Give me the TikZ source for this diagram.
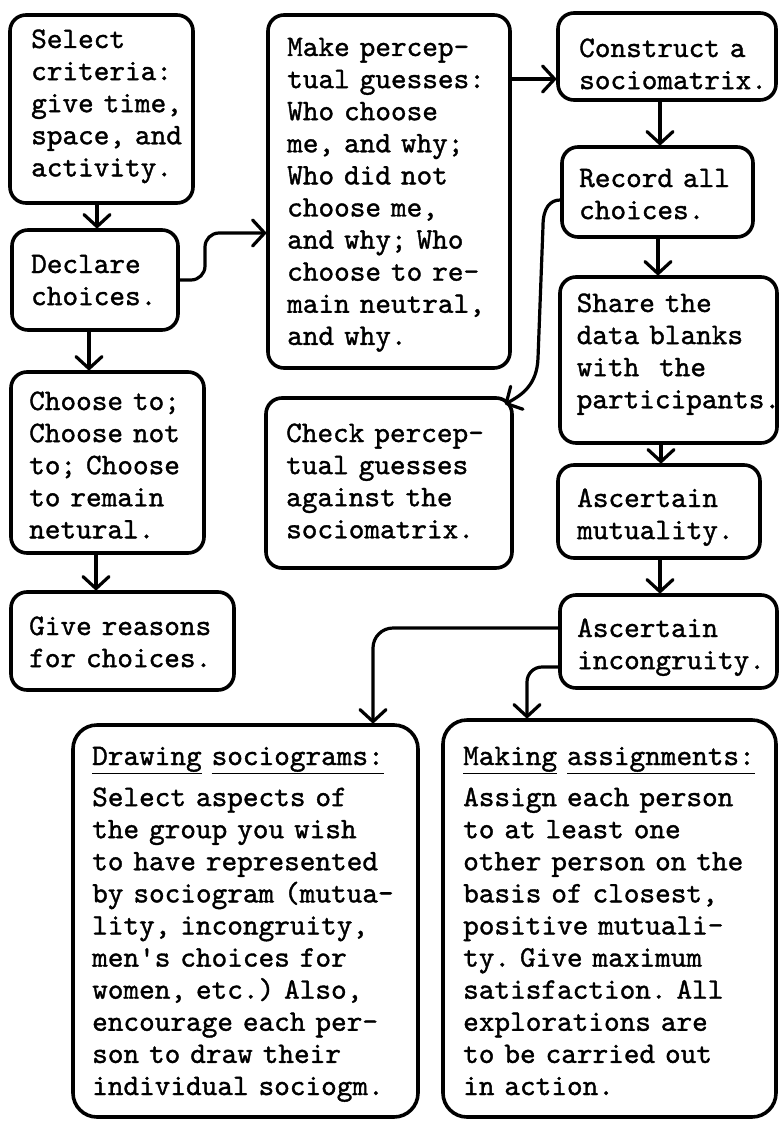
\documentclass[tikz,border=0pt]{standalone}
\usepackage{fontspec}
\newfontfamily\tw{lmmono10-regular}[Extension=.otf, FakeBold=1.2]
\usetikzlibrary{arrows.meta}
% box given by its left, top, right and bottom edges (y grows downward)
\newcommand\stepbox[5]{%
  \node[box, minimum width={#4-#2}, minimum height={#5-#3}] (#1) at ({(#2+#4)/2},{(#3+#5)/2}) {};}
\begin{document}
\begin{tikzpicture}[x=1pt, y=-1pt,
  box/.style={draw, line width=3.6pt, rounded corners=16pt, inner sep=0pt},
  bigbox/.style={box, rounded corners=24pt},
  txt/.style={inner sep=0pt, anchor=base west, align=left, text width=330pt,
    font=\tw\fontsize{29.8}{32.1}\selectfont\frenchspacing},
  conn/.style={line width=3.2pt, line cap=round, line join=round,
    -{Straight Barb[length=12pt, width=26pt, line cap=round, line join=round]}}]
\useasboundingbox (0,0) rectangle (780,1121);

% left column
\stepbox{b1}{10}{15}{193}{203}
\stepbox{b2}{12}{230}{178}{330}
\stepbox{b3}{11}{372}{204}{553}
\stepbox{b4}{11}{592}{234}{690}
% middle column
\stepbox{b5}{268}{15}{510}{368}
\stepbox{b9}{266}{398}{512}{568}
% right column
\stepbox{b6}{558}{13}{776}{100}
\stepbox{b7}{562}{147}{753}{237}
\stepbox{b8}{560}{277}{777}{443}
\stepbox{b10}{558}{465}{760}{558}
\stepbox{b11}{560}{595}{777}{688}
% the two outcome boxes
\node[bigbox, minimum width=345, minimum height=392] (b12) at (245.5,921) {};
\node[bigbox, minimum width=333, minimum height=397] (b13) at (609.5,918.5) {};

% texts
\node[txt] (t1) at (31,48) {Select\\criteria:\\give time,\\space, and\\activity.};
\node[txt] (t2) at (31,273) {Declare\\choices.};
\node[txt] (t3) at (29,410) {Choose to;\\Choose not\\to; Choose\\to remain\\netural.};
\node[txt] (t4) at (29,635) {Give reasons\\for choices.};
\node[txt] (t5) at (287,56) {Make percep-\\tual guesses:\\Who choose\\me, and why;\\Who did not\\choose me,\\and why; Who\\choose to re-\\main neutral,\\and why.};
\node[txt] (t9) at (286,442) {Check percep-\\tual guesses\\against the\\sociomatrix.};
\node[txt] (t6) at (579,57) {Construct a\\sociomatrix.};
\node[txt] (t7) at (579,187) {Record all\\choices.};
\node[txt] (t8) at (576.5,312) {Share the\\data blanks\\with\ \ the\\participants.};
\node[txt] (t10) at (577,507) {Ascertain\\mutuality.};
\node[txt] (t11) at (577,637) {Ascertain\\incongruity.};
\node[txt] (t12) at (92,765) {\underline{Drawing} \underline{sociograms:}\\[9pt]
  Select aspects of\\the group you wish\\to have represented\\by sociogram (mutua-\\lity, incongruity,\\men\textquotesingle s choices for\\women, etc.) Also,\\encourage each per-\\son to draw their\\individual sociogm.};
\node[txt] (t13) at (463,765) {\underline{Making} \underline{assignments:}\\[9pt]
  Assign each person\\to at least one\\other person on the\\basis of closest,\\positive mutuali-\\ty. Give maximum\\satisfaction. All\\explorations are\\to be carried out\\in action.};

% connectors
\draw[conn] (b1.south -| 97,0) -- (b2.north -| 97,0);
\draw[conn] (b2.south -| 89,0) -- (b3.north -| 89,0);
\draw[conn] (b3.south -| 96,0) -- (b4.north -| 96,0);
\draw[conn, rounded corners=14pt] (b2.east) -| (205,233) -- (b5.west |- 0,233);
\draw[conn] (b5.east |- 0,79) -- (b6.west |- 0,79);
\draw[conn] (b6.south -| 660,0) -- (b7.north -| 660,0);
\draw[conn] (b7.south -| 658,0) -- (b8.north -| 658,0);
\draw[conn] (b8.south -| 661,0) -- (b10.north -| 661,0);
\draw[conn] (b10.south -| 660,0) -- (b11.north -| 660,0);
\draw[conn] (b7.west |- 0,200) .. controls (550,200) and (543,208) .. (543,226)
  -- (538,358) .. controls (537,385) and (522,395) .. ([xshift=-9pt, yshift=-8pt]b9.north east);
\draw[conn, rounded corners=20pt] (b11.west |- 0,628) -| (b12.north -| 373,0);
\draw[conn, rounded corners=15pt] (b11.west |- 0,667) -| (b13.north -| 527,0);
\end{tikzpicture}
\end{document}
